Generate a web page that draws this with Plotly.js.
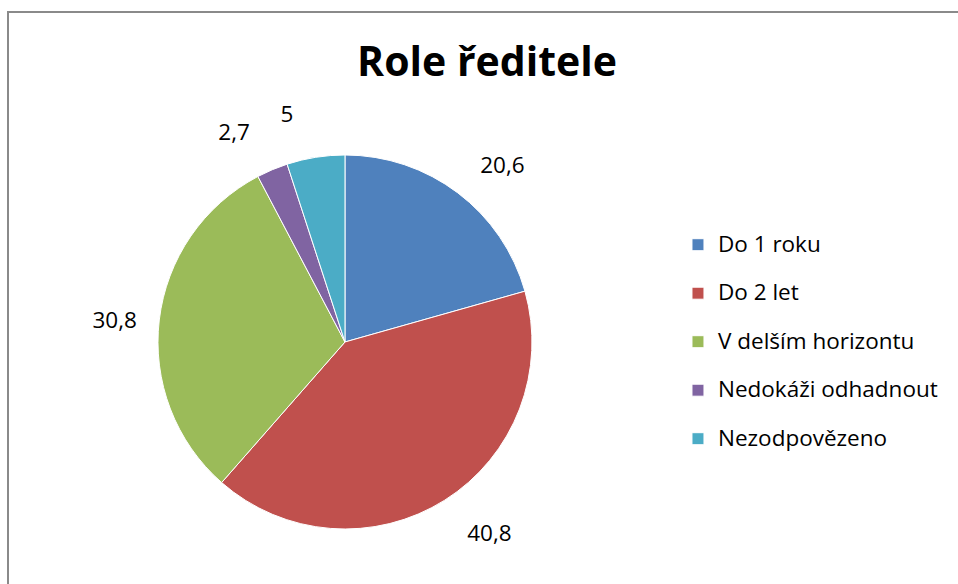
<!DOCTYPE html>
<html>
<head>
<meta charset="utf-8">
<script src="https://cdn.plot.ly/plotly-3.0.1.min.js"></script>
<style>
  html, body { margin: 0; padding: 0; background: #fff; overflow: hidden; }
  #frame { position: absolute; left: 7px; top: 11px; width: 960px; height: 580px;
           border-left: 2px solid #8a8a8a; border-top: 2px solid #8a8a8a; }
  #chart { position: absolute; left: 0; top: 0; width: 958px; height: 584px; }
</style>
</head>
<body>
<div id="frame"></div>
<div id="chart"></div>
<script>
const categories = ["Do 1 roku", "Do 2 let", "V delším horizontu", "Nedokáži odhadnout", "Nezodpovězeno"];
const values = [20.6, 40.8, 30.8, 2.7, 5];
const colors = ["#4F81BD", "#C0504D", "#9BBB59", "#8064A2", "#4BACC6"];
const chartTitle = "Role ředitele";

const FONT = "'Open Sans', 'DejaVu Sans', sans-serif";
const NB = "\u00a0";
// value labels with decimal comma; padded with a blank line above and below
// so Plotly places them a little further from the rim (as Excel does)
const valueLabels = values.map(v => String(v).replace(".", ","));
const padded = valueLabels.map(t => NB + "<br>" + t + "<br>" + NB);
// labels are split over two layers (alternate slices) so Plotly does not
// nudge neighbouring small-slice labels and draw leader lines
const layerA = padded.map((t, i) => (i % 2 === 0 ? t : ""));
const layerB = padded.map((t, i) => (i % 2 === 1 ? t : ""));

const domain = { x: [0.1649, 0.5553], y: [0.0942, 0.7346] };
const textfont = { family: FONT, size: 22.5, color: "#000" };

const pieMain = {
  type: "pie",
  labels: categories.map(c => "<span style='font-size:22.5px'>" + c + "</span><br>" + NB),
  values: values,
  text: layerA,
  textinfo: "text",
  textposition: "outside",
  textfont: textfont,
  sort: false,
  direction: "clockwise",
  rotation: 0,
  marker: { colors: colors, line: { color: "#ffffff", width: 1 } },
  domain: domain,
  hoverinfo: "none"
};

const pieLabels = {
  type: "pie",
  labels: categories,
  values: values,
  text: layerB,
  textinfo: "text",
  textposition: "outside",
  textfont: textfont,
  sort: false,
  direction: "clockwise",
  rotation: 0,
  marker: { colors: colors.map(() => "rgba(0,0,0,0)"), line: { width: 0 } },
  domain: domain,
  showlegend: false,
  hoverinfo: "none"
};

const layout = {
  width: 958,
  height: 584,
  margin: { l: 0, r: 0, t: 0, b: 0 },
  paper_bgcolor: "rgba(0,0,0,0)",
  plot_bgcolor: "rgba(0,0,0,0)",
  title: {
    text: "<b>" + chartTitle + "</b>",
    font: { family: FONT, size: 41, color: "#000" },
    x: 0.5084, xanchor: "center",
    y: 0.894, yanchor: "middle",
    xref: "paper", yref: "paper"
  },
  showlegend: true,
  legend: {
    x: 0.7077, xanchor: "left",
    y: 0.6116, yanchor: "top",
    valign: "top",
    font: { family: FONT, size: 17.5, color: "#000" },
    bgcolor: "rgba(0,0,0,0)"
  }
};

Plotly.newPlot("chart", [pieMain, pieLabels], layout, { staticPlot: true, displayModeBar: false });
</script>
</body>
</html>
